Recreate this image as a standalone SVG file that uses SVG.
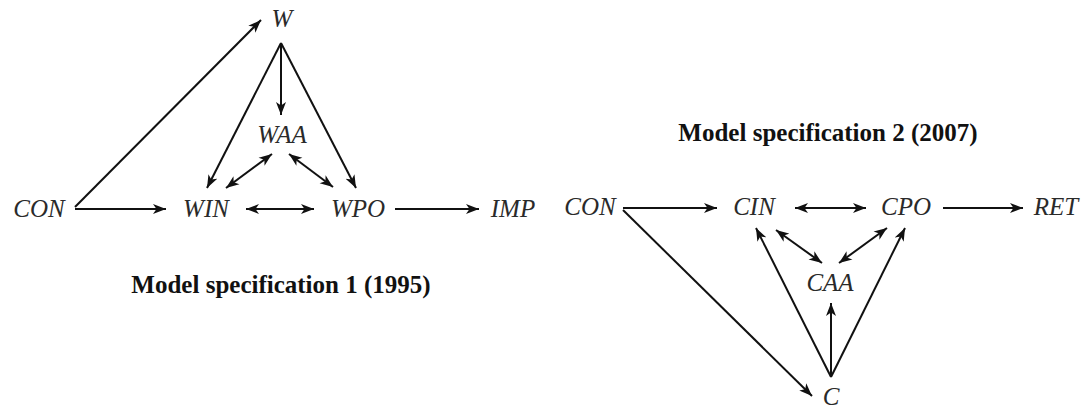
<svg xmlns="http://www.w3.org/2000/svg" width="1083" height="410" viewBox="0 0 1083 410">
<style>
.lbl{font-family:"Liberation Serif","Times New Roman",serif;font-style:italic;font-size:25px;fill:#2a2a2a;text-anchor:middle}
.cap{font-family:"Liberation Serif","Times New Roman",serif;font-weight:bold;font-size:25px;fill:#111;text-anchor:middle}
.c line{stroke:#111;stroke-width:2;fill:none;marker-end:url(#ah)}
.c line.bi{marker-start:url(#ah)}
</style>
<defs>
<marker id="ah" markerUnits="userSpaceOnUse" markerWidth="14" markerHeight="11" refX="13" refY="5" orient="auto-start-reverse" viewBox="0 0 14 10">
<path d="M0,0 L13,5 L0,10 L3.5,5 Z" fill="#111"/>
</marker>
</defs>
<rect width="1083" height="410" fill="#fff"/>
<g class="c" id="connectors">
<line x1="75" y1="207" x2="261" y2="20"/>
<line x1="75" y1="209" x2="166" y2="209"/>
<line class="bi" x1="246" y1="209" x2="314" y2="209"/>
<line x1="395" y1="209" x2="479" y2="209"/>
<line x1="281" y1="43" x2="281" y2="115"/>
<line x1="281" y1="43" x2="207" y2="188"/>
<line x1="281" y1="43" x2="356" y2="188"/>
<line class="bi" x1="272" y1="154" x2="226" y2="188"/>
<line class="bi" x1="289" y1="154" x2="333" y2="187"/>
<line x1="623" y1="208" x2="717" y2="208"/>
<line class="bi" x1="795" y1="208" x2="866" y2="208"/>
<line x1="943" y1="208" x2="1023" y2="208"/>
<line x1="623" y1="210" x2="812" y2="396"/>
<line x1="831" y1="377" x2="756" y2="228"/>
<line x1="831" y1="377" x2="905" y2="228"/>
<line x1="831" y1="377" x2="831" y2="303"/>
<line class="bi" x1="776" y1="230" x2="822" y2="263"/>
<line class="bi" x1="887" y1="228" x2="839" y2="263"/>
</g>
<g id="W"><text class="lbl" x="282" y="27">W</text></g>
<g id="WAA"><text class="lbl" x="282" y="143">WAA</text></g>
<g id="CON1"><text class="lbl" x="39" y="217">CON</text></g>
<g id="WIN"><text class="lbl" x="206" y="217">WIN</text></g>
<g id="WPO"><text class="lbl" x="358" y="217">WPO</text></g>
<g id="IMP"><text class="lbl" x="513" y="217">IMP</text></g>
<g id="cap1"><text class="cap" x="281" y="293">Model specification 1 (1995)</text></g>
<g id="cap2"><text class="cap" x="828" y="141">Model specification 2 (2007)</text></g>
<g id="CON2"><text class="lbl" x="590" y="215">CON</text></g>
<g id="CIN"><text class="lbl" x="754" y="215">CIN</text></g>
<g id="CPO"><text class="lbl" x="906" y="215">CPO</text></g>
<g id="RET"><text class="lbl" x="1056" y="215">RET</text></g>
<g id="CAA"><text class="lbl" x="830" y="291">CAA</text></g>
<g id="C"><text class="lbl" x="831" y="405">C</text></g>
</svg>
